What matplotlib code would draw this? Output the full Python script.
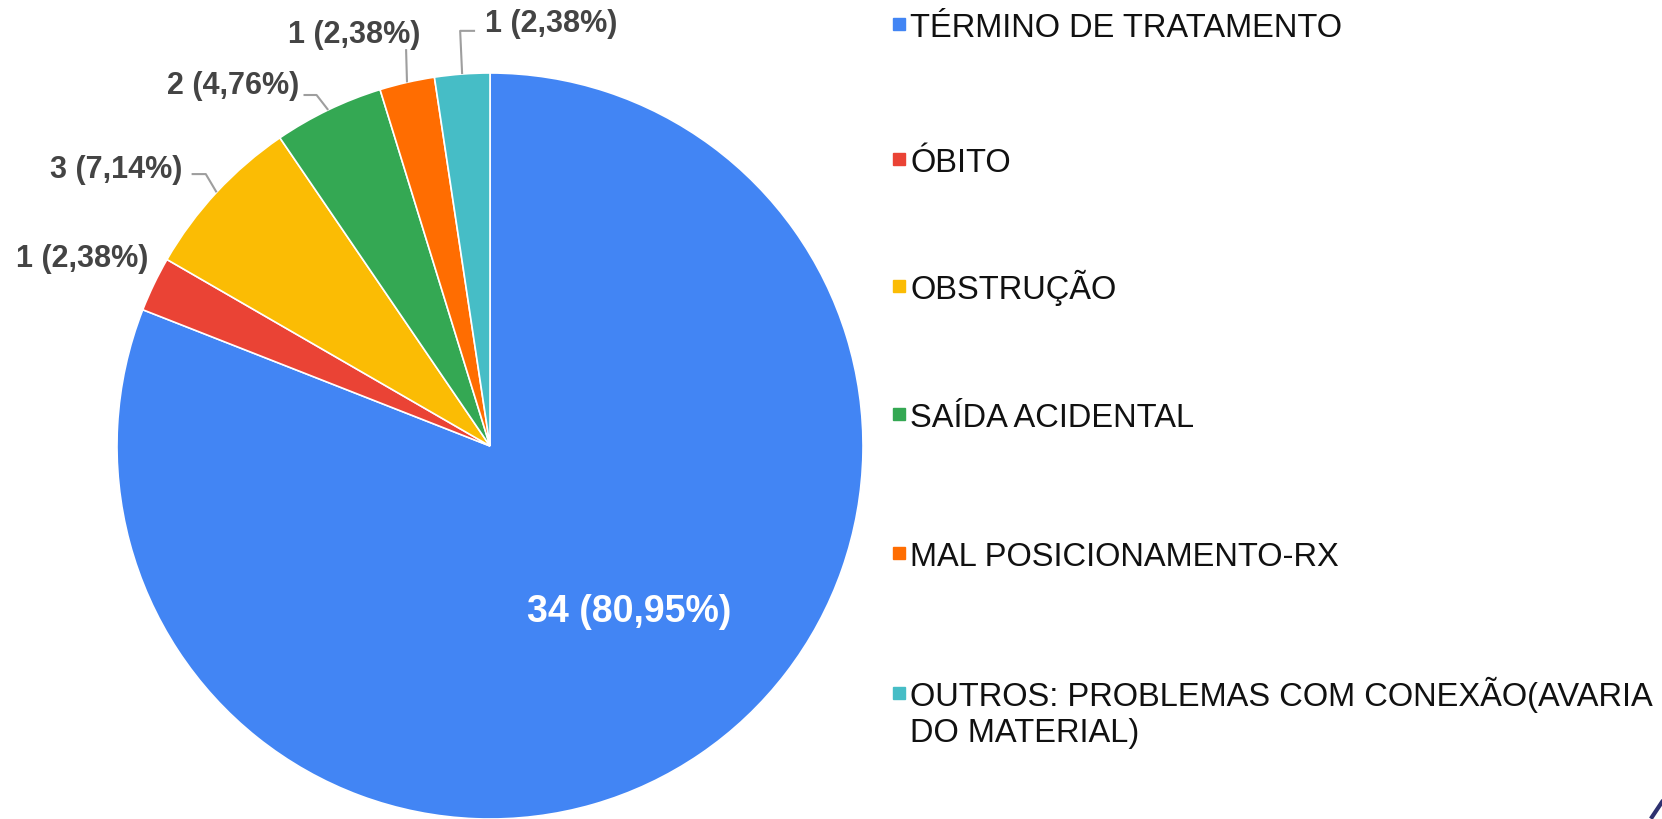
import textwrap

import numpy as np
import matplotlib
matplotlib.use("Agg")
import matplotlib.pyplot as plt
from matplotlib.lines import Line2D
from matplotlib.patches import Rectangle

plt.rcParams['font.family'] = ['Liberation Sans', 'DejaVu Sans']

# dados
categorias = ['TÉRMINO DE TRATAMENTO', 'ÓBITO', 'OBSTRUÇÃO', 'SAÍDA ACIDENTAL',
              'MAL POSICIONAMENTO-RX',
              'OUTROS: PROBLEMAS COM CONEXÃO(AVARIA DO MATERIAL)']
valores = [34, 1, 3, 2, 1, 1]
cores = ['#4285F4', '#EA4335', '#FBBC04', '#34A853', '#FF6D01', '#46BDC6']

# posicao dos rotulos externos (coord. de dados) e cotovelo da linha guia
pos_rotulo = [(0.373, -0.442, 'center'), (-0.917, 0.504, 'right'),
              (-0.826, 0.743, 'right'), (-0.512, 0.968, 'right'),
              (-0.188, 1.105, 'right'), (-0.013, 1.134, 'left')]
guia = [None, None,
        [(-0.762, 0.729), (-0.800, 0.729)],
        [(-0.465, 0.941), (-0.500, 0.941)],
        [(-0.225, 1.064)],
        [(-0.080, 1.113), (-0.040, 1.113)]]

W, H = 1662, 820
fig = plt.figure(figsize=(W / 100, H / 100), dpi=100)
fig.patch.set_facecolor('white')

cx, cy, r = 490, 447, 373
ax = fig.add_axes([(cx - r) / W, (H - cy - r) / H, 2 * r / W, 2 * r / H])

total = sum(valores)
wedges, _ = ax.pie(valores, colors=cores, startangle=90, counterclock=False,
                   radius=1, wedgeprops=dict(edgecolor='white', linewidth=1.2))
ax.set_xlim(-1, 1)
ax.set_ylim(-1, 1)
ax.axis('off')


def rotulo(v):
    pct = f'{v / total * 100:.2f}'.replace('.', ',')
    return f'{v} ({pct}%)'


for i, (w, v) in enumerate(zip(wedges, valores)):
    lx, ly, ha = pos_rotulo[i]
    if i == 0:
        ax.text(lx, ly, rotulo(v), color='white', fontsize=27,
                fontweight='bold', ha=ha, va='center')
        continue
    ang = np.deg2rad((w.theta1 + w.theta2) / 2)
    x0, y0 = np.cos(ang), np.sin(ang)
    if guia[i]:
        xs = [x0] + [p[0] for p in guia[i]]
        ys = [y0] + [p[1] for p in guia[i]]
        ax.plot(xs, ys, color='#9e9e9e', lw=1.5, clip_on=False,
                solid_capstyle='butt')
    ax.text(lx, ly, rotulo(v), color='#444444', fontsize=22,
            fontweight='bold', ha=ha, va='center')

# legenda
linhas_y = [25, 160, 287, 415, 554, 694]
leg_x = 910 / W
for cat, cor, yc in zip(categorias, cores, linhas_y):
    linhas = textwrap.wrap(cat, width=36)
    for j, linha in enumerate(linhas):
        fig.text(leg_x, 1 - (yc + 12 + j * 36) / H, linha, fontsize=23.5,
                 color='#111111', ha='left', va='baseline')
    fig.add_artist(Rectangle((893 / W, 1 - (yc + 6) / H), 12 / W, 12 / H,
                             transform=fig.transFigure, color=cor))

# detalhe do slide no canto
fig.add_artist(Line2D([1652 / W, 1.0], [2 / H, 17 / H],
                      transform=fig.transFigure, color='#2e3170', lw=3))

fig.savefig('out.png', dpi=100, facecolor='white')
